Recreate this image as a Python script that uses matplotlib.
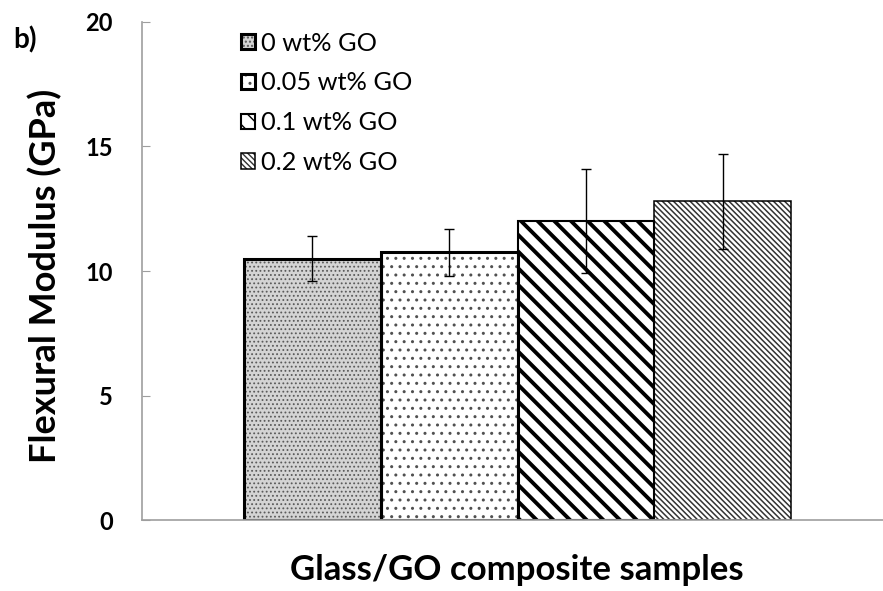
import matplotlib
matplotlib.use('Agg')
import matplotlib.pyplot as plt
from matplotlib.legend_handler import HandlerTuple

plt.rcParams['font.family'] = ['Lato', 'DejaVu Sans']

# data
labels = ['0 wt% GO', '0.05 wt% GO', '0.1 wt% GO', '0.2 wt% GO']
modulus = [10.5, 10.75, 12.0, 12.8]
errors = [0.9, 0.95, 2.1, 1.9]
yticks = [0, 5, 10, 15, 20]

# look of each bar: fill, hatch, hatch colour, hatch width, edge width
faces = ['#d4d4d4', 'white', 'white', 'white']
hatches = ['....', '..', '\\\\', '\\' * 6]
hatch_cols = ['#5a5a5a', '#505050', 'black', '#333333']
hatch_lws = [0.8, 1.0, 2.8, 1.1]
edge_lws = [2.2, 2.2, 1.5, 1.1]

fig = plt.figure(figsize=(8.83, 5.91), dpi=100)
ax = fig.add_axes([0.1608, 0.1201, 0.8392, 0.8427])

x = list(range(len(modulus)))
handles = []
for i in x:
    with plt.rc_context({'hatch.linewidth': hatch_lws[i]}):
        fill = ax.bar(x[i], modulus[i], width=1.0, color=faces[i],
                      edgecolor=hatch_cols[i], hatch=hatches[i],
                      linewidth=0, zorder=2)
        if hasattr(fill[0], 'set_hatch_linewidth'):
            fill[0].set_hatch_linewidth(hatch_lws[i])
    edge = ax.bar(x[i], modulus[i], width=1.0, fill=False,
                  edgecolor='black', linewidth=edge_lws[i], zorder=2.5)
    handles.append((fill[0], edge[0]))

ax.errorbar(x, modulus, yerr=errors, fmt='none', ecolor='black',
            elinewidth=1.0, capsize=3.3, capthick=1.0, zorder=3)

ax.set_xlim(-1.245, 4.17)
ax.set_ylim(0, 20)
ax.set_yticks(yticks)
ax.set_xticks([])
for s in ['top', 'right']:
    ax.spines[s].set_visible(False)
for s in ['left', 'bottom']:
    ax.spines[s].set_color('#9e9e9e')
    ax.spines[s].set_linewidth(1.2)
ax.tick_params(axis='y', direction='in', length=6, color='#9e9e9e',
               pad=21, labelsize=17)
for t in ax.get_yticklabels():
    t.set_fontweight('bold')

ax.set_ylabel('Flexural Modulus (GPa)', fontsize=26, fontweight='bold')
ax.yaxis.label.set_va('center')
ax.yaxis.set_label_coords(-0.131, 0.49)
ax.set_xlabel('Glass/GO composite samples', fontsize=25, fontweight='bold')
ax.xaxis.label.set_va('center')
ax.xaxis.set_label_coords(0.506, -0.100)

fig.text(0.028, 0.932, 'b)', fontsize=20, fontweight='bold',
         ha='center', va='center')

ax.legend(handles, labels, handler_map={tuple: HandlerTuple(ndivide=1)},
          loc='upper left', bbox_to_anchor=(0.258, 0.968),
          bbox_transform=fig.transFigure, frameon=False, fontsize=18.3,
          handlelength=0.55, handleheight=0.55, handletextpad=0.24,
          labelspacing=0.66, borderpad=0)

fig.savefig('out.png', dpi=100)
